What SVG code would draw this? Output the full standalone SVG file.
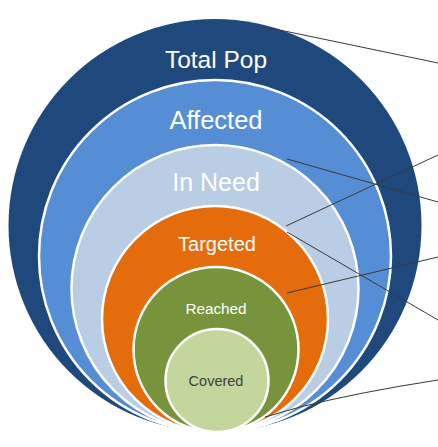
<svg xmlns="http://www.w3.org/2000/svg" width="438" height="447" viewBox="0 0 438 447">
<style>
.ring{stroke:#ffffff;stroke-width:2.5}
.lbl{font-family:"Liberation Sans","Open Sans",sans-serif;text-anchor:middle;fill:#ffffff}
.conn{stroke:#3a3a3a;stroke-width:1;fill:none}
</style>
<rect width="438" height="447" fill="#ffffff"/>
<g id="total-pop">
<circle cx="215" cy="225.5" r="206.5" fill="#1f497d"/>
<text class="lbl" x="216" y="68" font-size="24.5">Total Pop</text>
</g>
<g id="affected">
<circle class="ring" cx="215" cy="256" r="176" fill="#558ed5"/>
<text class="lbl" x="216" y="129" font-size="25.5">Affected</text>
</g>
<g id="in-need">
<circle class="ring" cx="215" cy="288.5" r="143.5" fill="#b9cde5"/>
<text class="lbl" x="216" y="191" font-size="25">In Need</text>
</g>
<g id="targeted">
<circle class="ring" cx="215" cy="319" r="113" fill="#e46c0a"/>
<text class="lbl" x="217" y="251" font-size="20">Targeted</text>
</g>
<g id="reached">
<circle class="ring" cx="216" cy="349.5" r="82.5" fill="#77933c"/>
<text class="lbl" x="216" y="314" font-size="15.3">Reached</text>
</g>
<g id="covered">
<circle class="ring" cx="217" cy="380.5" r="51.5" fill="#c3d69b"/>
<text class="lbl" x="216" y="386" font-size="14.5" fill="#404040" style="fill:#404040">Covered</text>
</g>
<g id="connectors">
<line class="conn" x1="270" y1="28" x2="438" y2="63"/>
<line class="conn" x1="287" y1="159" x2="438" y2="202"/>
<line class="conn" x1="286" y1="226" x2="438" y2="155"/>
<line class="conn" x1="287" y1="232" x2="438" y2="320"/>
<line class="conn" x1="287" y1="293" x2="438" y2="257"/>
<path class="conn" d="M265 417 L300 407 Q360 392 438 380"/>
</g>
</svg>
